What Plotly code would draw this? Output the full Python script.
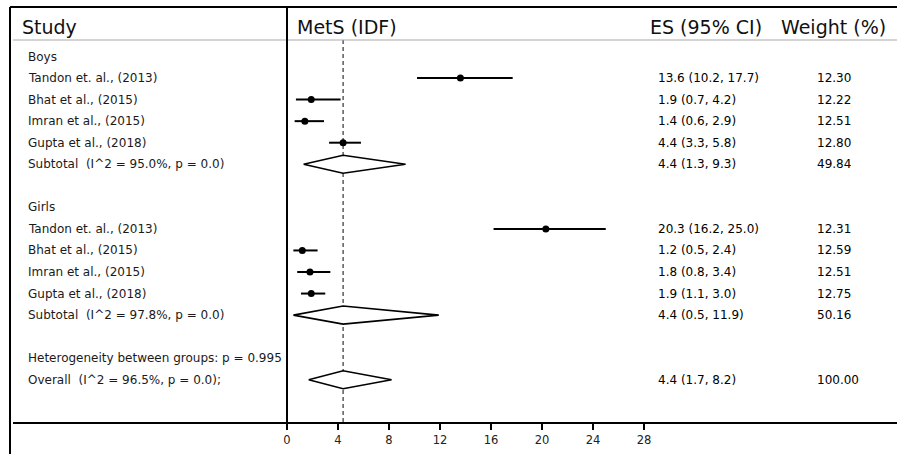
import plotly.graph_objects as go

# ---------------- data ----------------
studies = ["Tandon et. al., (2013)", "Bhat et al., (2015)", "Imran et al., (2015)", "Gupta et al., (2018)"]
boys_es = [13.6, 1.9, 1.4, 4.4]
boys_lo = [10.2, 0.7, 0.6, 3.3]
boys_hi = [17.7, 4.2, 2.9, 5.8]
boys_w = [12.30, 12.22, 12.51, 12.80]
girls_es = [20.3, 1.2, 1.8, 1.9]
girls_lo = [16.2, 0.5, 0.8, 1.1]
girls_hi = [25.0, 2.4, 3.4, 3.0]
girls_w = [12.31, 12.59, 12.51, 12.75]
subtotal_labels = ["Subtotal  (I^2 = 95.0%, p = 0.0)", "Subtotal  (I^2 = 97.8%, p = 0.0)"]
subtotal_es = [4.4, 4.4]
subtotal_lo = [1.3, 0.5]
subtotal_hi = [9.3, 11.9]
subtotal_w = [49.84, 50.16]
overall_label = "Overall  (I^2 = 96.5%, p = 0.0);"
overall_es, overall_lo, overall_hi, overall_w = 4.4, 1.7, 8.2, 100.00
hetero_label = "Heterogeneity between groups: p = 0.995"
group_labels = ["Boys", "Girls"]
x_ticks = [0, 4, 8, 12, 16, 20, 24, 28]
headers = ["Study", "MetS (IDF)", "ES (95% CI)", "Weight (%)"]

# ---------------- layout geometry ----------------
W, H = 897, 454
ML, MR, MT, MB = 13, 0, 7, 32
X0PX, PXU = 287.0, 12.75          # pixel of x=0 and pixels per unit
ROW0, ROWH = 56.5, 21.55           # pixel of row 0 and row height
pw, ph = W - ML - MR, H - MT - MB


def px2x(px):
    return (px - X0PX) / PXU


def py2r(py):
    return (py - ROW0) / ROWH


xr = [px2x(ML), px2x(W - MR)]
yr = [py2r(H - MB), py2r(MT)]

FONT = "DejaVu Sans"
fig = go.Figure()

# rows
boys_rows = [1, 2, 3, 4]
girls_rows = [8, 9, 10, 11]
sub_rows = [5, 12]
group_rows = [0, 7]
hetero_row, overall_row = 14, 15

# study points with CIs
for es, lo, hi, rows in [(boys_es, boys_lo, boys_hi, boys_rows), (girls_es, girls_lo, girls_hi, girls_rows)]:
    fig.add_trace(go.Scatter(
        x=es, y=rows, mode="markers",
        marker=dict(color="black", size=7, symbol="circle"),
        error_x=dict(type="data", symmetric=False,
                     array=[h - e for h, e in zip(hi, es)],
                     arrayminus=[e - l for e, l in zip(es, lo)],
                     width=0, thickness=2, color="black"),
        showlegend=False, hoverinfo="skip"))

# diamonds
DH = 0.42
for es, lo, hi, r in list(zip(subtotal_es, subtotal_lo, subtotal_hi, sub_rows)) + [(overall_es, overall_lo, overall_hi, overall_row)]:
    fig.add_trace(go.Scatter(
        x=[lo, es, hi, es, lo], y=[r, r - DH, r, r + DH, r],
        mode="lines", fill="toself", fillcolor="white",
        line=dict(color="black", width=1.6),
        showlegend=False, hoverinfo="skip"))

shapes = []
# overall dashed reference line
shapes.append(dict(type="line", xref="x", yref="y", x0=overall_es, x1=overall_es,
                   y0=py2r(40), y1=py2r(H - MB), line=dict(color="#333", width=1.2, dash="4px,3px"), layer="below"))
# header separator (gray)
shapes.append(dict(type="line", xref="paper", yref="paper", x0=0, x1=1,
                   y0=1 - (40 - MT) / ph, y1=1 - (40 - MT) / ph, line=dict(color="#aaa", width=1.2)))
# top border
shapes.append(dict(type="line", xref="paper", yref="paper", x0=(10 - ML) / pw, x1=1,
                   y0=1, y1=1, line=dict(color="black", width=2)))
# left border
shapes.append(dict(type="line", xref="paper", yref="paper", x0=(10 - ML) / pw, x1=(10 - ML) / pw,
                   y0=1, y1=1 - (H - MT) / ph, line=dict(color="black", width=2)))
# x=0 vertical line
shapes.append(dict(type="line", xref="x", yref="paper", x0=0, x1=0,
                   y0=1 - (426 - MT) / ph, y1=1, line=dict(color="black", width=2)))

ann = []


def text(x_px, row, s, size=12, color="#1a1a1a"):
    ann.append(dict(x=px2x(x_px), y=row, xref="x", yref="y", text=s, showarrow=False,
                    xanchor="left", yanchor="middle", font=dict(family=FONT, size=size, color=color)))


# headers
hdr_row = py2r(27)
for xp, h in zip([20, 295, 648, 779], headers):
    text(xp, hdr_row, h, size=19, color="#111")

# group labels
for r, g in zip(group_rows, group_labels):
    text(26, r, g)

# study rows
for rows, es, lo, hi, w in [(boys_rows, boys_es, boys_lo, boys_hi, boys_w),
                             (girls_rows, girls_es, girls_lo, girls_hi, girls_w)]:
    for r, name, e, l, h, ww in zip(rows, studies, es, lo, hi, w):
        text(26, r, name)
        text(656, r, f"{e:.1f} ({l:.1f}, {h:.1f})", color="#000")
        text(815, r, f"{ww:.2f}", color="#000")

for r, lab, e, l, h, ww in zip(sub_rows, subtotal_labels, subtotal_es, subtotal_lo, subtotal_hi, subtotal_w):
    text(26, r, lab)
    text(656, r, f"{e:.1f} ({l:.1f}, {h:.1f})", color="#000")
    text(815, r, f"{ww:.2f}", color="#000")

text(26, hetero_row, hetero_label)
text(26, overall_row, overall_label)
text(656, overall_row, f"{overall_es:.1f} ({overall_lo:.1f}, {overall_hi:.1f})", color="#000")
text(815, overall_row, f"{overall_w:.2f}", color="#000")

fig.update_layout(
    width=W, height=H,
    margin=dict(l=ML, r=MR, t=MT, b=MB, pad=0),
    paper_bgcolor="white", plot_bgcolor="white",
    shapes=shapes, annotations=ann,
    xaxis=dict(range=xr, tickvals=x_ticks, ticktext=[str(t) for t in x_ticks],
               showgrid=False, zeroline=False, showline=True, linecolor="black", linewidth=2,
               ticks="outside", ticklen=6, tickwidth=1.5, tickcolor="black",
               tickfont=dict(family=FONT, size=11.5, color="#222"), fixedrange=True),
    yaxis=dict(range=yr, visible=False, showgrid=False, zeroline=False, fixedrange=True),
    showlegend=False,
)

fig.write_html("out.html",
               config={"displayModeBar": False},
               post_script="document.body.style.margin='0px';document.body.style.overflow='hidden';")
